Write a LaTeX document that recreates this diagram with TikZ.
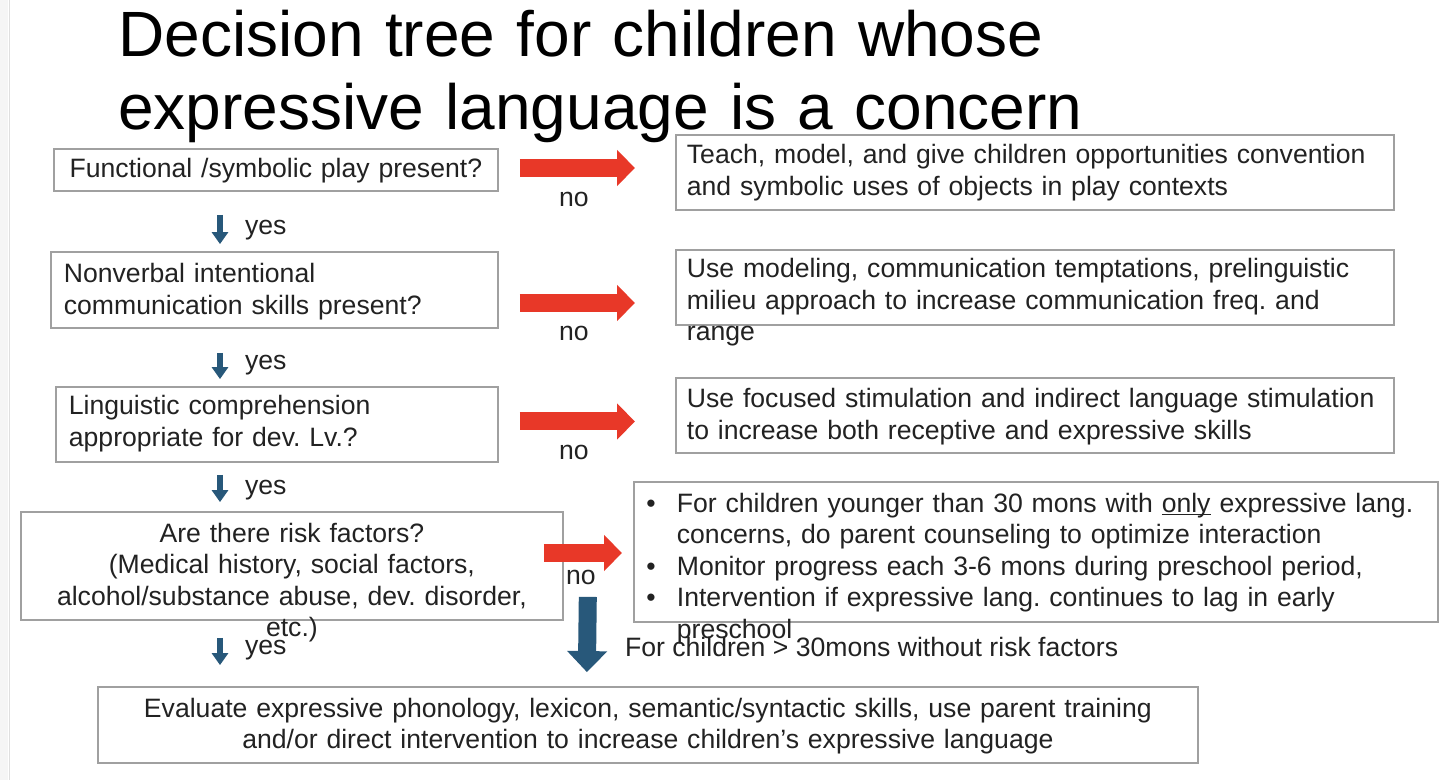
\documentclass[tikz,border=0pt]{standalone}
\usepackage{fontspec}
\setmainfont{Liberation Sans}
\usetikzlibrary{arrows.meta,calc,positioning}
\definecolor{boxgray}{RGB}{160,160,160}
\definecolor{txtgray}{RGB}{34,34,34}
\definecolor{nored}{RGB}{232,56,40}
\definecolor{yesblue}{RGB}{40,88,122}
\newcommand{\bodyfont}{\fontsize{13.3}{15.75}\selectfont\frenchspacing}
\newcommand{\bitem}{\makebox[15.3pt][l]{\textbullet}}
\newcommand{\bhang}{\hspace*{15.3pt}}

\begin{document}
\begin{tikzpicture}[x=0.5pt, y=-0.5pt,
  box/.style={draw=boxgray, line width=0.9pt, inner ysep=0pt, inner xsep=4pt, font=\bodyfont, text=txtgray, anchor=base west},
  title/.style={anchor=base west, inner sep=0pt, text width=560pt, align=left, font=\fontsize{32}{36.5}\selectfont},
  lbl/.style={font=\bodyfont, text=txtgray, inner sep=0pt},
  nolbl/.style={lbl, midway, xshift=-1.75pt},
  yeslbl/.style={lbl, anchor=base west, xshift=11pt},
  noarrow/.style={draw=nored, line width=9pt, -{Triangle[width=17.5pt,length=9pt]}},
  yesarrow/.style={draw=yesblue, line width=3pt, -{Triangle[width=8pt,length=6pt]}},
  bigarrow/.style={draw=yesblue, line width=9pt, -{Triangle[width=19.5pt,length=10.5pt]}}]
\fill[white] (0,0) rectangle (1440,780);
\useasboundingbox (0,0) rectangle (1440,780);
\fill[gray!8] (0,0) rectangle (8,780);
\draw[gray!25, line width=0.6pt] (9.5,0) -- (9.5,780);

\node[title] (ttl) at (118,57) {Decision tree for children whose\\expressive language is a concern};

% questions on the left
\node[box, align=center, text width=214pt, text height=14.5pt, text depth=6.5pt] (q1) at (53,178) {Functional /symbolic play present?};
\node[box, align=left, inner xsep=6.5pt, text width=210.5pt, text height=15.5pt, text depth=22.5pt] (q2) at (50,283) {Nonverbal intentional\\communication skills present?};
\node[box, align=left, inner xsep=6.5pt, text width=208pt, text height=14pt, text depth=23.5pt] (q3) at (55,415) {Linguistic comprehension\\appropriate for dev. Lv.?};
\node[box, align=center, text width=263pt, text height=15pt, text depth=39pt] (q4) at (20,542) {Are there risk factors?\\(Medical history, social factors,\\alcohol/substance abuse, dev. disorder,\\etc.)};

% what to do on the right
\node[box, align=left, inner xsep=5.5pt, text width=348pt, text height=14.5pt, text depth=23pt] (r1) at (675,164) {Teach, model, and give children opportunities convention\\and symbolic uses of objects in play contexts};
\node[box, align=left, inner xsep=5.5pt, text width=348pt, text height=14pt, text depth=23.5pt] (r2) at (675,278) {Use modeling, communication temptations, prelinguistic\\milieu approach to increase communication freq. and\\range};
\node[box, align=left, inner xsep=5.5pt, text width=348pt, text height=15pt, text depth=22.5pt] (r3) at (675,408) {Use focused stimulation and indirect language stimulation\\to increase both receptive and expressive skills};
\node[box, align=left, inner xsep=6.2pt, text width=389.6pt, text height=15pt, text depth=55pt] (r4) at (633,512) {\bitem For children younger than 30 mons with \underline{\smash{only}} expressive lang.\\\bhang concerns, do parent counseling to optimize interaction\\\bitem Monitor progress each 3-6 mons during preschool period,\\\bitem Intervention if expressive lang. continues to lag in early\\\bhang preschool};
\node[box, align=center, text width=542pt, text height=15pt, text depth=23pt] (ev) at (97,717) {Evaluate expressive phonology, lexicon, semantic/syntactic skills, use parent training\\and/or direct intervention to increase children's expressive language};

% no branches
\draw[noarrow] ($(q1.east)+(21,-2)$) -- node[nolbl, yshift=-15.5pt] {no} ($(r1.west)+(-40,-4.5)$);
\draw[noarrow] ($(q2.east)+(21,13)$) -- node[nolbl, yshift=-15pt] {no} ($(r2.west)+(-40,15.5)$);
\draw[noarrow] ($(q3.east)+(21,-3)$) -- node[nolbl, yshift=-15.25pt] {no} ($(r3.west)+(-40,6)$);
\draw[noarrow] ($(q4.east)+(-20,-13)$) -- node[nolbl, xshift=0.75pt, yshift=-12pt] {no} ($(r4.west)+(-11,1)$);

% yes branches
\coordinate (ycol) at (220,0);
\draw[yesarrow] ($(q1.south -| ycol)+(0,23)$) -- node[yeslbl, pos=0.68] {yes} ($(q2.north -| ycol)+(0,-7)$);
\draw[yesarrow] ($(q2.south -| ycol)+(0,24)$) -- node[yeslbl, pos=0.64] {yes} ($(q3.north -| ycol)+(0,-7)$);
\draw[yesarrow] ($(q3.south -| ycol)+(0,12)$) -- node[yeslbl, pos=0.72] {yes} ($(q4.north -| ycol)+(0,-9)$);
\draw[yesarrow] ($(q4.south -| ycol)+(0,17)$) -- node[yeslbl, pos=0.62] {yes} ($(ev.north -| ycol)+(0,-21)$);

\draw[bigarrow] ($(q4.south east)+(24,-24)$) -- node[lbl, anchor=base west, pos=0.79, xshift=14.5pt] {For children > 30mons without risk factors} ($(ev.north)+(-61,-14)$);
\end{tikzpicture}
\end{document}
